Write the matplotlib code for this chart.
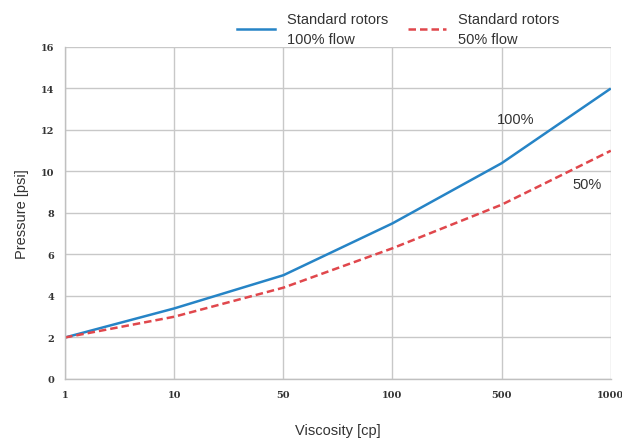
import matplotlib
matplotlib.use("Agg")
import matplotlib.pyplot as plt
from matplotlib.lines import Line2D

categories = ["1", "10", "50", "100", "500", "1000"]
flow_100 = [2.0, 3.4, 5.0, 7.5, 10.4, 14.0]
flow_50 = [2.0, 3.0, 4.4, 6.3, 8.4, 11.0]
y_ticks = [0, 2, 4, 6, 8, 10, 12, 14, 16]

fig = plt.figure(figsize=(6.22, 4.39), dpi=100)
ax = fig.add_axes([0.1045, 0.1344, 0.8775, 0.7563])

x = list(range(len(categories)))
blue = "#2684c6"
red = "#e0474c"
ax.plot(x, flow_100, color=blue, lw=1.8, solid_capstyle="butt")
ax.plot(x, flow_50, color=red, lw=1.8, linestyle=(0, (3, 1.6)))

ax.set_xlim(0, len(categories) - 1)
ax.set_ylim(0, 16)
ax.set_xticks(x)
ax.set_xticklabels(categories)
ax.set_yticks(y_ticks)
ax.grid(True, color="#c8c8c8", lw=1)
ax.set_axisbelow(True)
for s in ["top", "right"]:
    ax.spines[s].set_visible(False)
for s in ["left", "bottom"]:
    ax.spines[s].set_color("#c0c0c0")
    ax.spines[s].set_linewidth(1)
ax.tick_params(length=0, labelsize=7, colors="#333333", pad=8)
for lab in ax.get_xticklabels() + ax.get_yticklabels():
    lab.set_fontfamily("DejaVu Serif")
    lab.set_fontweight("bold")

ax.set_xlabel("Viscosity [cp]", fontsize=10.5, color="#333333", labelpad=17, family="Liberation Sans")
ax.set_ylabel("Pressure [psi]", fontsize=10.5, color="#333333", labelpad=8, family="Liberation Sans")

ax.text(4.13, 12.55, "100%", fontsize=10.5, color="#333333", ha="center", va="center", family="Liberation Sans")
ax.text(4.78, 9.4, "50%", fontsize=10.5, color="#333333", ha="center", va="center", family="Liberation Sans")

handles = [Line2D([], [], color=blue, lw=1.8),
           Line2D([], [], color=red, lw=1.8, linestyle=(0, (3, 1.6)))]
leg = fig.legend(handles, ["Standard rotors\n100% flow", "Standard rotors\n50% flow"],
                 loc="center", bbox_to_anchor=(0.64, 0.932), ncol=2, frameon=False,
                 prop={"family": "Liberation Sans", "size": 10.5}, handlelength=2.6,
                 columnspacing=1.4, handletextpad=0.8)
for t in leg.get_texts():
    t.set_color("#333333")
    t.set_linespacing(1.55)

fig.savefig("out.png", dpi=100)
